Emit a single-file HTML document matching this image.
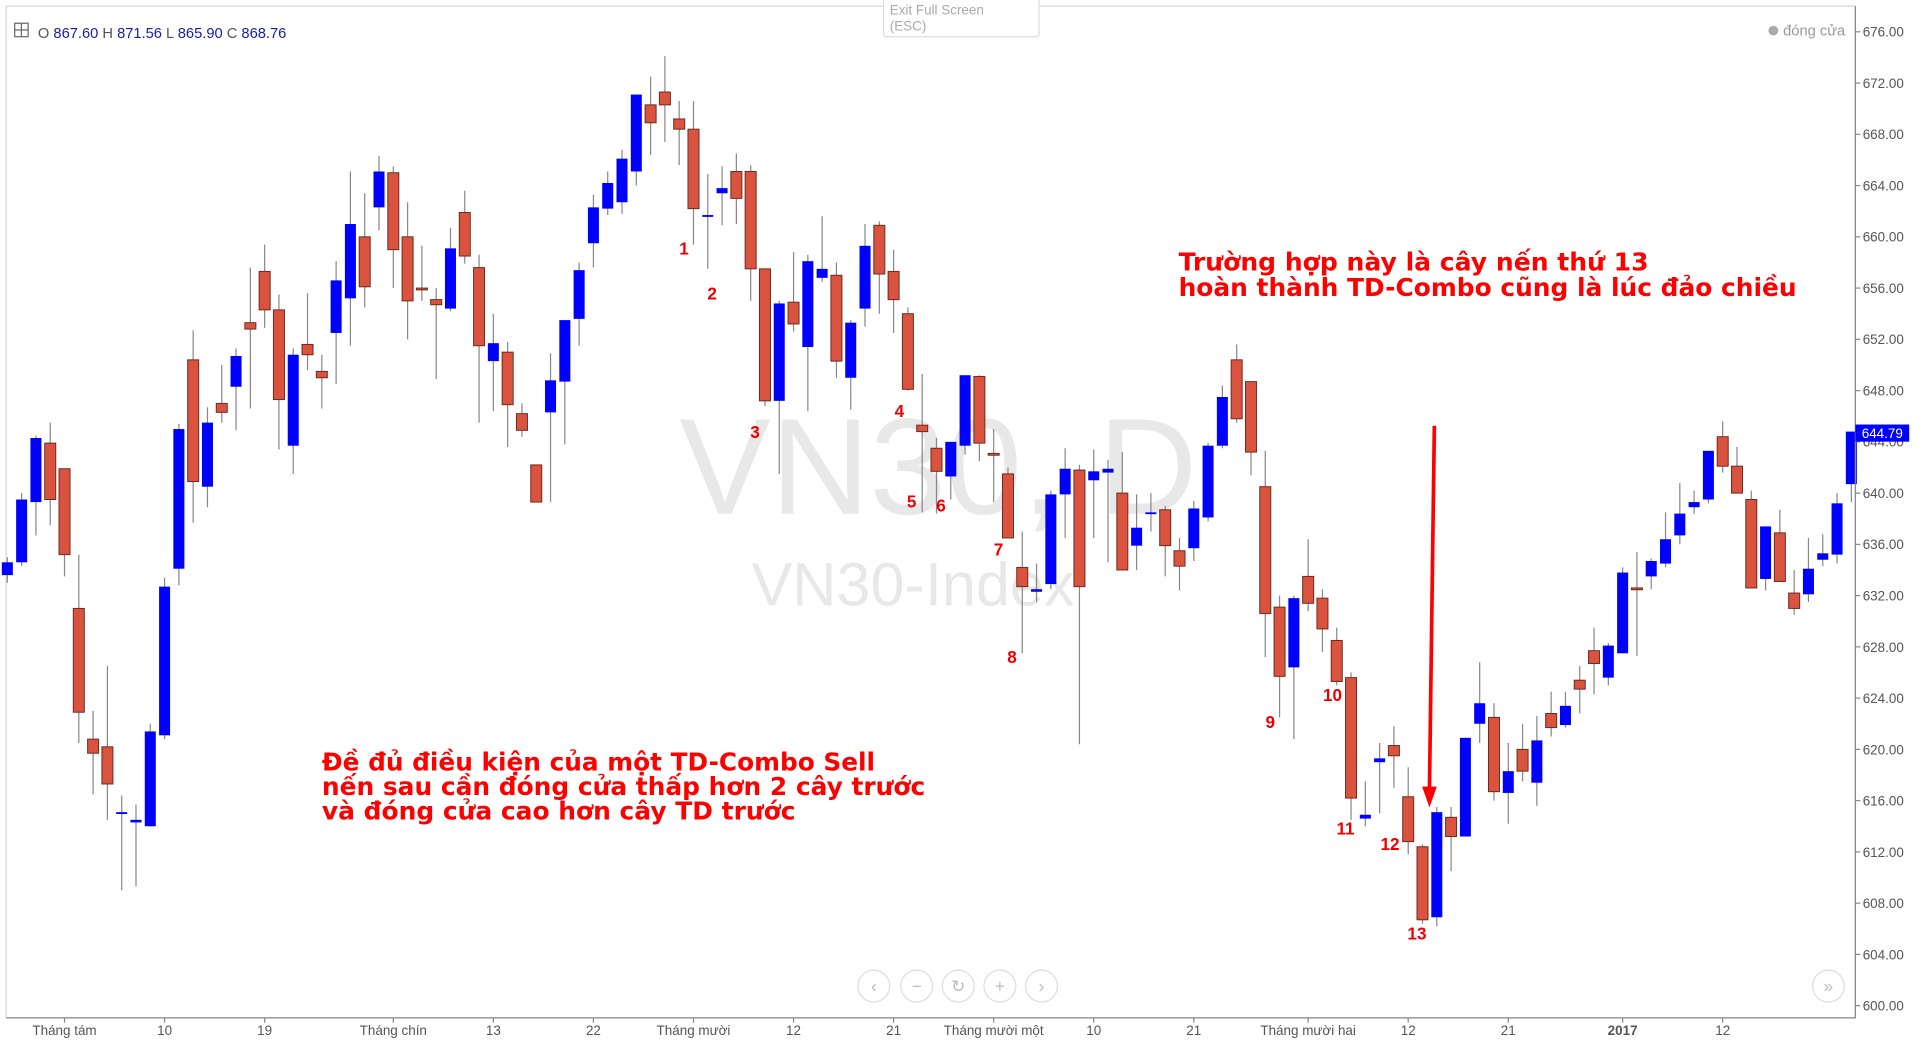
<!DOCTYPE html>
<html><head><meta charset="utf-8"><style>
html,body{margin:0;padding:0;background:#fff;width:1919px;height:1046px;overflow:hidden}
svg{display:block}
text{font-family:"Liberation Sans",sans-serif}
.ann{font-family:"DejaVu Sans","Liberation Sans",sans-serif}
</style></head><body>
<svg id="chart" width="1919" height="1046" viewBox="0 0 1568 855" preserveAspectRatio="none" xmlns="http://www.w3.org/2000/svg">
<rect x="0" y="0" width="1568" height="855" fill="#fff"/>
<rect x="5" y="5" width="1511" height="827" fill="#fff" stroke="#d6d6d6"/>
<g>
<text x="555" y="420" font-size="112" fill="#e8e8e8">VN30, D</text>
<text x="614" y="495" font-size="50" fill="#e8e8e8">VN30-Index</text>
</g>
<g id="candles"></g>
<line x1="1516" y1="5" x2="1516" y2="832" stroke="#888"/>
<line x1="5" y1="832" x2="1516" y2="832" stroke="#888"/>
<g id="yticks"></g>
<g id="xticks"></g>
<g><rect x="1516" y="347" width="44" height="14" fill="#0000ff"/><text x="1538" y="358" font-size="11" fill="#fff" text-anchor="middle">644.79</text></g>
<g>
<rect x="12" y="19" width="11" height="11" fill="none" stroke="#666"/><line x1="17.5" y1="19" x2="17.5" y2="30" stroke="#666"/><line x1="12" y1="24.5" x2="23" y2="24.5" stroke="#666"/>
<text x="31" y="31" font-size="12" fill="#555">O <tspan fill="#1a1aa6">867.60</tspan> H <tspan fill="#1a1aa6">871.56</tspan> L <tspan fill="#1a1aa6">865.90</tspan> C <tspan fill="#1a1aa6">868.76</tspan></text>
</g>
<g><rect x="722" y="-2" width="127" height="32" fill="#fff" stroke="#ddd" rx="2"/><text x="727" y="12" font-size="11" fill="#aaa">Exit Full Screen</text><text x="727" y="25" font-size="11" fill="#aaa">(ESC)</text></g>
<g><circle cx="1449" cy="25" r="4" fill="#aaa"/><text x="1457" y="29" font-size="12" fill="#999">đóng cửa</text></g>
<g font-family="Liberation Serif,serif" font-weight="bold" font-size="14" fill="#e00">
<text x="555" y="208">1</text><text x="578" y="245">2</text><text x="613" y="358">3</text><text x="731" y="341">4</text><text x="741" y="415">5</text><text x="765" y="418">6</text><text x="812" y="454">7</text><text x="823" y="542">8</text><text x="1034" y="595">9</text><text x="1081" y="573">10</text><text x="1092" y="682">11</text><text x="1128" y="695">12</text><text x="1150" y="768">13</text>
</g>
<g class="ann" font-weight="bold" font-size="20" fill="#f00">
<text class="ann" x="963" y="221" textLength="384" lengthAdjust="spacingAndGlyphs">Trường hợp này là cây nến thứ 13</text>
<text class="ann" x="963" y="242" textLength="505" lengthAdjust="spacingAndGlyphs">hoàn thành TD-Combo cũng là lúc đảo chiều</text>
</g>
<g class="ann" font-weight="bold" font-size="20" fill="#f00">
<text class="ann" x="263" y="630" textLength="452" lengthAdjust="spacingAndGlyphs">Đề đủ điều kiện của một TD-Combo Sell</text>
<text class="ann" x="263" y="650" textLength="493" lengthAdjust="spacingAndGlyphs">nến sau cần đóng cửa thấp hơn 2 cây trước</text>
<text class="ann" x="263" y="670" textLength="387" lengthAdjust="spacingAndGlyphs">và đóng cửa cao hơn cây TD trước</text>
</g>
<g><line x1="1172" y1="348" x2="1168" y2="645" stroke="#f00" stroke-width="3"/><polygon points="1162,643 1174,643 1168,660" fill="#f00"/></g>
<g fill="#fff" stroke="#ddd" font-size="14">
<circle cx="714" cy="806" r="13"/><circle cx="749" cy="806" r="13"/><circle cx="783" cy="806" r="13"/><circle cx="817" cy="806" r="13"/><circle cx="851" cy="806" r="13"/><circle cx="1494" cy="806" r="13"/>
<g fill="#bbb" stroke="none" text-anchor="middle"><text x="714" y="811">‹</text><text x="749" y="811">−</text><text x="783" y="811">↻</text><text x="817" y="811">+</text><text x="851" y="811">›</text><text x="1494" y="811">»</text></g>
</g>
</svg>
<script>
const opens=[633.6,634.6,639.3,643.9,641.9,631.0,620.8,620.2,615.0,614.3,614.0,621.1,634.1,650.4,640.5,647.0,648.3,653.3,657.3,654.3,643.7,651.6,649.5,652.5,655.2,660.0,662.3,665.0,660.0,656.0,655.1,654.4,661.9,657.6,650.3,651.0,646.2,642.2,646.3,648.7,653.6,659.5,662.2,662.7,665.1,670.3,671.3,669.2,668.4,661.6,663.4,665.1,665.1,657.5,647.2,654.9,651.4,656.8,657.0,649.0,654.4,660.9,657.3,654.0,645.3,643.5,641.3,643.7,649.1,643.1,641.5,634.2,632.3,632.9,639.9,641.8,641.0,641.6,640.0,635.9,638.4,638.7,635.5,635.7,638.1,643.7,650.4,648.7,640.5,631.1,626.4,633.5,631.8,628.5,625.6,614.6,619.0,620.3,616.3,612.4,606.9,614.7,613.2,622.0,622.5,616.6,620.0,617.4,622.8,621.9,625.4,627.7,625.6,627.5,632.6,633.5,634.5,636.7,638.9,639.5,644.4,642.1,639.5,633.3,636.9,632.2,632.1,634.8,635.2,640.7];
const highs=[635,640,644.5,645.5,641.9,635.2,623,626.5,616.4,615.7,622,633.4,645.4,652.7,646.7,650,651.3,657.6,659.4,655.5,651.3,655.6,650.8,658.1,665.1,663.4,666.3,665.5,662.7,659.3,656.0,660.7,663.6,658.6,654.0,651.8,647.0,642.2,650.9,653.5,658.0,663.3,665.1,666.8,671.1,672.5,674.1,670.6,670.6,664.9,665.5,666.5,665.6,657.5,655,658.8,658.6,661.6,658,653.5,661,661.2,659,654.5,649.3,644.3,644,649.2,649.2,645,642,637,634.5,640.2,643.5,642.2,643.4,642.6,643.2,639.9,640,639,636.5,639.4,643.9,648.4,651.6,648.7,643.3,632.0,632.0,636.4,632.5,629.5,626.0,617.5,620.5,621.8,618.6,612.6,615.5,615.5,620.9,626.8,623.6,620.5,622,622.6,624.5,624.5,626.5,629.5,628.3,634.2,635.4,634.9,638.5,640.8,640.2,643.3,645.6,643.6,640.2,637.4,638.7,634,636.5,636.8,640,644.8];
const lows=[633,634.3,636.7,637.5,633.5,620.5,616.5,614.5,609,609.3,614,620.8,632.8,637.7,638.9,645.5,644.9,646.6,652.9,643.4,641.5,649.6,646.6,648.5,651.5,654.5,660.5,656.0,652.0,655,648.9,654.2,657.9,645.5,646.4,643.6,644.4,639.3,639.3,643.8,651.5,657.6,661.7,661.8,664.0,666.4,667.4,665.6,659.4,657.5,660.9,661.0,655.0,646.8,641.5,652.6,646.4,656.5,649,646.5,653,654,652.5,648,638.5,638.4,639.5,643,642.5,639.3,636.5,627.5,631.5,632.5,636.5,620.4,636.5,634.6,634.0,634.0,637,633.5,632.4,634.7,637.8,643.5,645.5,641.4,627.2,622.5,620.8,630.8,627.6,625.0,614.5,614,615,617,611.8,606.4,606.2,610.5,613.2,620.5,616,614.2,617.5,615.6,621,621.7,622.8,624.3,625,627.5,627.3,632.5,634.2,636,638.4,639.2,641.6,640.0,632.6,632.4,633.1,630.5,631.5,634.3,634.5,639.3];
const closes=[634.6,639.5,644.3,639.5,635.2,622.9,619.7,617.3,615.1,614.5,621.4,632.7,645.0,640.9,645.5,646.3,650.7,652.8,654.3,647.3,650.8,650.8,649.0,656.6,661.0,656.1,665.1,659.0,655.0,655.9,654.7,659.1,658.5,651.5,651.7,646.9,644.9,639.3,648.8,653.5,657.4,662.3,664.2,666.1,671.1,668.9,670.3,668.4,662.2,661.7,663.8,663.0,657.5,647.2,654.8,653.2,658.1,657.5,650.3,653.3,659.3,657.1,655.1,648.1,644.8,641.7,644.0,649.2,643.9,643.0,636.5,632.7,632.5,639.9,641.9,632.7,641.7,641.9,634.0,637.3,638.5,635.9,634.3,638.8,643.7,647.5,645.8,643.2,630.6,625.7,631.8,631.4,629.4,625.3,616.2,614.9,619.3,619.5,612.8,606.7,615.1,613.2,620.9,623.6,616.7,618.3,618.3,620.7,621.7,623.4,624.7,626.7,628.1,633.8,632.5,634.7,636.4,638.4,639.3,643.3,642.1,640.0,632.6,637.4,633.1,631.0,634.1,635.3,639.2,644.8];
const priceTicks=[676,672,668,664,660,656,652,648,644,640,636,632,628,624,620,616,612,608,604,600];
const timeLabels=["Tháng tám","10","19","Tháng chín","13","22","Tháng mười","12","21","Tháng mười một","10","21","Tháng mười hai","12","21","2017","12"];
const timeIdx=[4,11,18,27,34,41,48,55,62,69,76,83,91,98,105,113,120];
const NS="http://www.w3.org/2000/svg";
function xAt(i){return 6+i*11.68;}
function yAt(p){return 26+(676-p)*10.474;}
function mk(t,a){const e=document.createElementNS(NS,t);for(const k in a)e.setAttribute(k,a[k]);return e;}
const cg=document.getElementById('candles');
for(let i=0;i<opens.length;i++){
  const up=closes[i]>=opens[i];const x=xAt(i);
  const g=mk('g',{});
  
  
  const w=mk('line',{x1:x,x2:x,y1:yAt(highs[i]),y2:yAt(lows[i]),stroke:'#888','stroke-width':1});
  
  
  g.appendChild(w);
  const top=yAt(Math.max(opens[i],closes[i])),bot=yAt(Math.min(opens[i],closes[i]));
  const b=mk('rect',{x:x-4.5,y:top,width:9,height:Math.max(1.5,bot-top),fill:up?'#0000ff':'#d9533f',stroke:up?'#0000ff':'#6b2a1f','stroke-width':up?0:0.8});
  
  
  g.appendChild(b);
  cg.appendChild(g);
}
const yg=document.getElementById('yticks');
priceTicks.forEach(p=>{
  const y=yAt(p);
  yg.appendChild(mk('line',{x1:1516,x2:1520,y1:y,y2:y,stroke:'#888'}));
  const t=mk('text',{x:1522,y:y+4,'font-size':11,fill:'#555'});
  
  
  t.textContent=p.toFixed(2);yg.appendChild(t);
});
const xg=document.getElementById('xticks');
timeLabels.forEach((s,k)=>{
  const x=xAt(timeIdx[k]);
  xg.appendChild(mk('line',{x1:x,x2:x,y1:832,y2:836,stroke:'#888'}));
  const t=mk('text',{x:x,y:846,'font-size':11,fill:'#555','text-anchor':'middle','font-weight':s==='2017'?'bold':'normal'});
  
  
  t.textContent=s;xg.appendChild(t);
});
</script>
</body></html>
